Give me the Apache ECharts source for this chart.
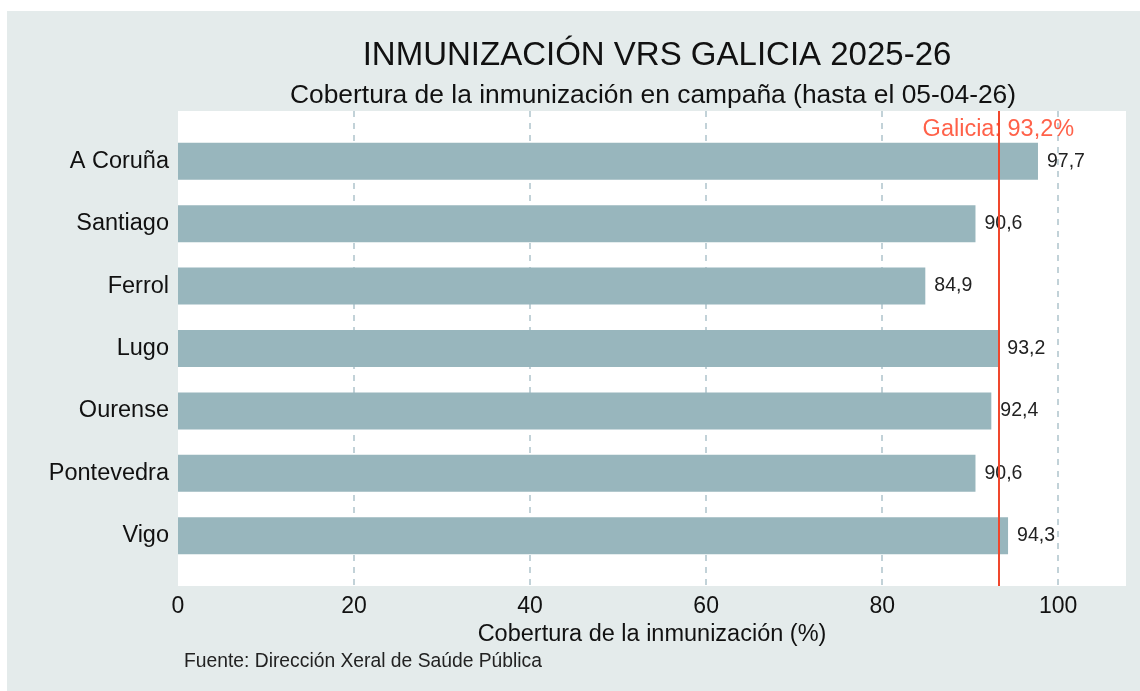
<!DOCTYPE html>
<html>
<head>
<meta charset="utf-8">
<script src="https://cdn.jsdelivr.net/npm/echarts@6/dist/echarts.min.js"></script>
<style>
html,body{margin:0;padding:0;background:#ffffff;}
#chart{width:1140px;height:691px;}
</style>
</head>
<body>
<div id="chart"></div>
<script>
const categories = ['A Coruña','Santiago','Ferrol','Lugo','Ourense','Pontevedra','Vigo'];
const coverage = [97.7, 90.6, 84.9, 93.2, 92.4, 90.6, 94.3];
const galiciaValue = 93.2;
const xTicks = [0, 20, 40, 60, 80, 100];
const titleText = 'INMUNIZACIÓN VRS GALICIA 2025-26';
const subtitleText = 'Cobertura de la inmunización en campaña (hasta el 05-04-26)';
const xAxisName = 'Cobertura de la inmunización (%)';
const sourceText = 'Fuente: Dirección Xeral de Saúde Pública';

const fmt = v => v.toFixed(1).replace('.', ',');
const FONT = '"Liberation Sans", Arial, sans-serif';
const X_MAX = 107.7;

const chart = echarts.init(document.getElementById('chart'), null, {renderer:'canvas'});
chart.setOption({
  backgroundColor: '#ffffff',
  animation: false,
  textStyle: {fontFamily: FONT},
  graphic: [{
    type: 'rect', z: -10, silent: true,
    shape: {x: 7, y: 11, width: 1140, height: 691},
    style: {fill: '#e4ebeb'}
  }],
  title: [
    {text: titleText, left: 652, top: 34, textAlign: 'center',
     textStyle: {fontFamily: FONT, fontSize: 33, fontWeight: 'normal', color: '#111111'}},
    {text: subtitleText, left: 648, top: 78, textAlign: 'center',
     textStyle: {fontFamily: FONT, fontSize: 26.4, fontWeight: 'normal', color: '#111111'}},
    {text: sourceText, left: 179, top: 647,
     textStyle: {fontFamily: FONT, fontSize: 19.3, fontWeight: 'normal', color: '#222222'}}
  ],
  grid: [
    {left: 178, top: 111, width: 948, height: 475, show: true, backgroundColor: '#ffffff', borderWidth: 0, containLabel: false},
    {left: 178, top: 130, width: 948, height: 437, show: false, containLabel: false}
  ],
  xAxis: [
    {type: 'value', gridIndex: 0, min: 0, max: X_MAX, interval: 20,
     axisLine: {show: false}, axisTick: {show: false},
     axisLabel: {fontFamily: FONT, fontSize: 23, color: '#111111', margin: 9, showMaxLabel: false,
                 formatter: v => (xTicks.indexOf(v) >= 0 ? String(v) : '')},
     splitLine: {show: true, showMinLine: false, showMaxLine: false,
                 lineStyle: {color: '#c2d2d8', type: [6, 6], width: 2}},
     name: xAxisName, nameLocation: 'middle', nameGap: 31,
     nameTextStyle: {fontFamily: FONT, fontSize: 23.5, color: '#111111'}},
    {type: 'value', gridIndex: 1, min: 0, max: X_MAX, show: false}
  ],
  yAxis: [
    {type: 'value', gridIndex: 0, min: 0, max: 1, show: false},
    {type: 'category', gridIndex: 1, data: categories, inverse: true,
     axisLine: {show: false}, axisTick: {show: false}, splitLine: {show: false},
     axisLabel: {fontFamily: FONT, fontSize: 23.5, color: '#111111', margin: 9}}
  ],
  series: [
    {type: 'bar', xAxisIndex: 1, yAxisIndex: 1, data: coverage, barWidth: 37,
     itemStyle: {color: '#98b6bd'},
     label: {show: true, position: 'right', distance: 9, formatter: p => fmt(p.value),
             fontFamily: FONT, fontSize: 19.5, color: '#222222'},
     z: 2},
    {type: 'scatter', xAxisIndex: 0, yAxisIndex: 0, symbolSize: 0,
     data: [[galiciaValue, 0.962]],
     label: {show: true, position: 'inside', formatter: 'Galicia: ' + fmt(galiciaValue) + '%',
             fontFamily: FONT, fontSize: 23.5, color: '#ff3a1c'},
     markLine: {silent: true, symbol: ['none','none'], label: {show: false},
                lineStyle: {color: '#f0472d', width: 2, type: 'solid'},
                data: [{xAxis: galiciaValue}]},
     z: 5}
  ]
});
</script>
</body>
</html>
